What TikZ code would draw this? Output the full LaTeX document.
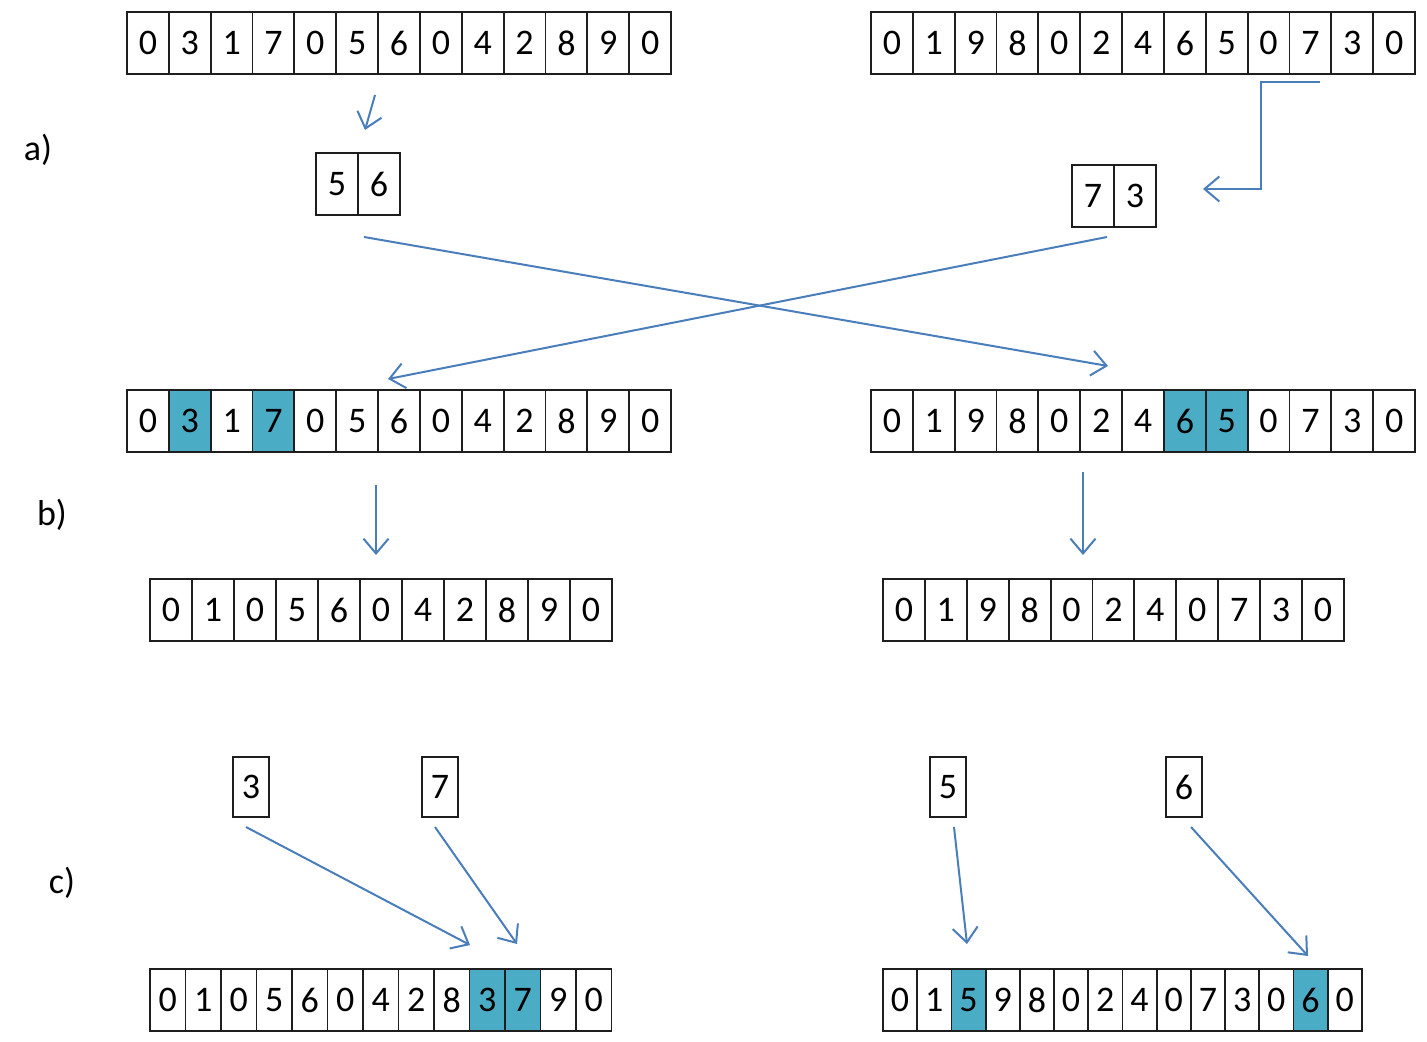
\documentclass[tikz,border=0pt]{standalone}
\usepackage{fontspec}
\setmainfont{Carlito}
\usepackage{tikz}
\usetikzlibrary{arrows.meta,positioning}
\usepackage{xcolor}
\definecolor{arrowblue}{HTML}{4A7EBB}
\definecolor{mark}{HTML}{4BACC6}
\definecolor{edge}{HTML}{1E1E1E}

\begin{document}
\begin{tikzpicture}[
  x=0.5pt, y=-0.5pt,
  cell/.style={draw=edge, line width=0.9pt, fill=white, minimum width=20.9pt, minimum height=31pt, inner sep=0pt, font=\fontsize{18}{20}\selectfont},
  hcell/.style={cell, fill=mark},
  narrow/.style={cell, minimum width=17.75pt},
  hnarrow/.style={narrow, fill=mark},
  slim/.style={cell, minimum width=17.1pt},
  hslim/.style={slim, fill=mark},
  single/.style={cell, minimum width=18pt, minimum height=30pt},
  lbl/.style={font=\fontsize{18}{20}\selectfont},
  arr/.style={-{Straight Barb[length=2.6mm, width=4.4mm]}, line width=1pt, draw=arrowblue}
]
\useasboundingbox (0,0) rectangle (1427,1042);

% a) parents and cut segments
\foreach \d [count=\i from 0] in {0,3,1,7,0,5,6,0,4,2,8,9,0}
  \node[cell] (L\i) at ({127+41.85*(\i+0.5)},43) {\d};
\foreach \d [count=\i from 0] in {0,1,9,8,0,2,4,6,5,0,7,3,0}
  \node[cell] (R\i) at ({871+41.85*(\i+0.5)},43) {\d};
\node[lbl] (la) at (38,150) {a)};

\node[cell] (sa0) at (337,184) {5};
\node[cell] (sa1) at (379,184) {6};
\node[cell] (sb0) at (1093,196) {7};
\node[cell] (sb1) at (1135,196) {3};

\coordinate (a1) at (375,95);
\coordinate (a2) at (365,130);
\coordinate (k1) at (1320,82);
\coordinate (k2) at (1203,189);
\draw[arr] (a1) -- (a2);
\draw[arr] (k1) -- ++(-59,0) |- (k2);

% swap of the segments
\coordinate (x1) at (364,237);
\coordinate (x2) at (1108,366);
\coordinate (x3) at (1107,237);
\coordinate (x4) at (388,379);
\draw[arr] (x1) -- (x2);
\draw[arr] (x3) -- (x4);

% b) marked duplicates and removal
\foreach \d/\s [count=\i from 0] in {0/cell,3/hcell,1/cell,7/hcell,0/cell,5/cell,6/cell,0/cell,4/cell,2/cell,8/cell,9/cell,0/cell}
  \node[\s] (mL\i) at ({127+41.85*(\i+0.5)},421) {\d};
\foreach \d/\s [count=\i from 0] in {0/cell,1/cell,9/cell,8/cell,0/cell,2/cell,4/cell,6/hcell,5/hcell,0/cell,7/cell,3/cell,0/cell}
  \node[\s] (mR\i) at ({871+41.85*(\i+0.5)},421) {\d};
\node[lbl] (lb) at (52,515) {b)};

\coordinate (b1) at (376,485);
\coordinate (b2) at (376,555);
\coordinate (b3) at (1083,472);
\coordinate (b4) at (1083,555);
\draw[arr] (b1) -- (b2);
\draw[arr] (b3) -- (b4);

\foreach \d [count=\i from 0] in {0,1,0,5,6,0,4,2,8,9,0}
  \node[cell] (rL\i) at ({150+42*(\i+0.5)},610) {\d};
\foreach \d [count=\i from 0] in {0,1,9,8,0,2,4,0,7,3,0}
  \node[cell] (rR\i) at ({883+41.9*(\i+0.5)},610) {\d};

% c) reinsertion
\node[lbl] (lc) at (62,883) {c)};
\node[single] (g3) at (251,787) {3};
\node[single] (g7) at (440,787) {7};
\node[single] (g5) at (948,787) {5};
\node[single] (g6) at (1184,787) {6};

\coordinate (c1) at (246,827);
\coordinate (c2) at (470,945);
\coordinate (c3) at (435,827);
\coordinate (c4) at (517,944);
\coordinate (c5) at (954,827);
\coordinate (c6) at (967,944);
\coordinate (c7) at (1191,827);
\coordinate (c8) at (1308,956);
\draw[arr] (c1) -- (c2);
\draw[arr] (c3) -- (c4);
\draw[arr] (c5) -- (c6);
\draw[arr] (c7) -- (c8);

\foreach \d/\s [count=\i from 0] in {0/narrow,1/narrow,0/narrow,5/narrow,6/narrow,0/narrow,4/narrow,2/narrow,8/narrow,3/hnarrow,7/hnarrow,9/narrow,0/narrow}
  \node[\s] (cL\i) at ({150+35.5*(\i+0.5)},1000) {\d};
\foreach \d/\s [count=\i from 0] in {0/slim,1/slim,5/hslim,9/slim,8/slim,0/slim,2/slim,4/slim,0/slim,7/slim,3/slim,0/slim,6/hslim,0/slim}
  \node[\s] (cR\i) at ({883+34.2*(\i+0.5)},1000) {\d};
\end{tikzpicture}
\end{document}
